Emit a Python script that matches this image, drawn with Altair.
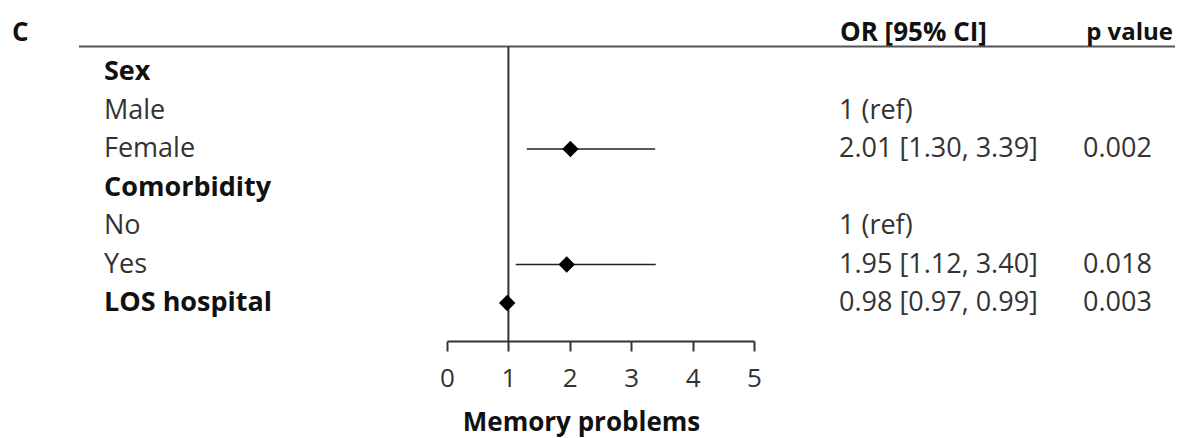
import altair as alt
import pandas as pd

# ---- data ----
row_labels = ["Sex", "Male", "Female", "Comorbidity", "No", "Yes", "LOS hospital"]
row_bold = [True, False, False, True, False, False, True]
estimate = [None, None, 2.01, None, None, 1.95, 0.98]
ci_low = [None, None, 1.30, None, None, 1.12, 0.97]
ci_high = [None, None, 3.39, None, None, 3.40, 0.99]
or_text = ["", "1 (ref)", "2.01 [1.30, 3.39]", "", "1 (ref)", "1.95 [1.12, 3.40]", "0.98 [0.97, 0.99]"]
p_text = ["", "", "0.002", "", "", "0.018", "0.003"]
x_ticks = [0, 1, 2, 3, 4, 5]
ref_value = [1]
panel_label = "C"
header_or = "OR [95% CI]"
header_p = "p value"
x_title = "Memory problems"

df = pd.DataFrame({
    "label": row_labels,
    "bold": row_bold,
    "est": estimate,
    "lo": ci_low,
    "hi": ci_high,
    "or_text": or_text,
    "p_text": p_text,
})
ref_df = pd.DataFrame({"ref": ref_value})

FONT = "Open Sans"
FS = 27
H = 333  # plot height: axis line position

xscale = alt.Scale(domain=[0, 5], range=[439, 746], nice=False, zero=False)
yscale = alt.Scale(type="point", domain=row_labels, range=[64, 295], padding=0)

base = alt.Chart(df)
y_enc = alt.Y("label:N", scale=yscale, axis=None)

ci = base.transform_filter("isValid(datum.est)").mark_rule(
    color="#222", strokeWidth=1.6
).encode(
    x=alt.X("lo:Q", scale=xscale,
            axis=alt.Axis(values=x_ticks, format="d", title=x_title, grid=False,
                          domainColor="#333", domainWidth=2, tickColor="#333",
                          tickWidth=2, tickSize=10, labelFont=FONT, labelFontSize=26,
                          labelColor="#333", labelPadding=27, labelBaseline="middle",
                          labelFlush=False, labelOverlap=False,
                          titleFont=FONT, titleFontSize=26, titleFontWeight="bold",
                          titleColor="#111", titleX=573, titleY=81,
                          titleBaseline="middle", titleAlign="center",
                          titleAnchor="start")),
    x2="hi:Q",
    y=y_enc,
)

pts = base.transform_filter("isValid(datum.est)").mark_point(
    shape="diamond", filled=True, size=270, color="black", opacity=1
).encode(x=alt.X("est:Q", scale=xscale), y=y_enc)

vline = alt.Chart(ref_df).mark_rule(color="#333", strokeWidth=2).encode(
    x=alt.X("ref:Q", scale=xscale), y=alt.value(38.5), y2=alt.value(H)
)

top_line = alt.Chart(ref_df).mark_rule(color="#555", strokeWidth=2).encode(
    x=alt.value(71), x2=alt.value(1167), y=alt.value(38.5)
)

lab_bold = base.transform_filter("datum.bold").mark_text(
    align="left", baseline="middle", font=FONT, fontSize=FS, fontWeight="bold", color="#111"
).encode(x=alt.value(96), y=y_enc, text="label:N")

lab_reg = base.transform_filter("!datum.bold").mark_text(
    align="left", baseline="middle", font=FONT, fontSize=FS, color="#333"
).encode(x=alt.value(96), y=y_enc, text="label:N")

or_col = base.mark_text(
    align="left", baseline="middle", font=FONT, fontSize=FS, color="#333"
).encode(x=alt.value(831), y=y_enc, text="or_text:N")

p_col = base.mark_text(
    align="left", baseline="middle", font=FONT, fontSize=FS, color="#333"
).encode(x=alt.value(1075), y=y_enc, text="p_text:N")

hdr_df = pd.DataFrame({"t": [panel_label, header_or], "px": [4, 832]})
headers = alt.Chart(hdr_df).mark_text(
    align="left", baseline="middle", font=FONT, fontSize=26, fontWeight="bold", color="#111"
).encode(x=alt.X("px:Q", scale=None), y=alt.value(25), text="t:N")

p_hdr_df = pd.DataFrame({"t": [header_p]})
p_header = alt.Chart(p_hdr_df).mark_text(
    align="right", baseline="middle", font=FONT, fontSize=24, fontWeight="bold", color="#111"
).encode(x=alt.value(1165), y=alt.value(25), text="t:N")

chart = alt.layer(
    top_line, vline, ci, pts, lab_bold, lab_reg, or_col, p_col, headers, p_header
).properties(
    width=1167, height=H,
    padding={"left": 0, "right": 0, "top": 0, "bottom": 97},
    autosize=alt.AutoSizeParams(type="none"),
).configure_view(stroke=None)

chart.save("out.html", embed_options={"renderer": "svg", "actions": False})
